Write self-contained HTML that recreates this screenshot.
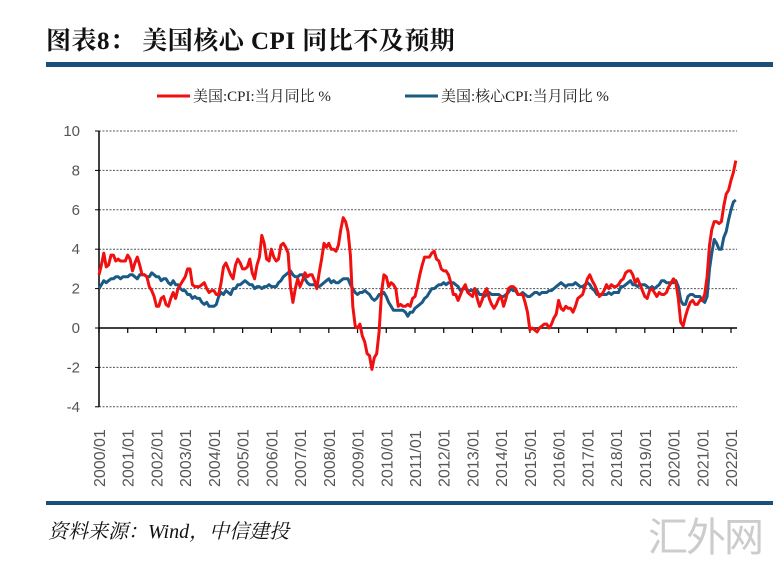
<!DOCTYPE html>
<html><head><meta charset="utf-8"><style>
body{margin:0;width:773px;height:562px;background:#fff;overflow:hidden;position:relative;font-family:"Liberation Sans","Noto Sans CJK SC",sans-serif}
.t{position:absolute;left:46px;top:21px;font:bold 25px "Liberation Serif","Noto Serif CJK SC",serif;color:#111;letter-spacing:0.5px}
.bar{position:absolute;left:46px;width:727px;background:#1a4f7a}
.src{position:absolute;left:48px;top:515px;font:italic 20px "Liberation Serif","Noto Serif CJK SC",serif;color:#111}
.wm{position:absolute;left:648px;top:505px;font:40px "Noto Sans CJK SC",sans-serif;color:#ccc;letter-spacing:-2px}
</style></head><body>
<div class="t">图表8：&nbsp;美国核心 CPI 同比不及预期</div>
<div class="bar" style="top:62px;height:5px"></div>
<div class="bar" style="top:501px;height:4px"></div>
<div class="src">资料来源：Wind，中信建投</div>
<div class="wm">汇外网</div>
<svg id="s" width="773" height="562" style="position:absolute;left:0;top:0"></svg>
<script>
var cpi=[2.7,3.2,3.8,3.1,3.2,3.7,3.7,3.4,3.5,3.4,3.4,3.4,3.7,3.5,2.9,3.3,3.6,3.2,2.7,2.7,2.6,2.1,1.9,1.6,1.1,1.1,1.5,1.6,1.2,1.1,1.5,1.8,1.5,2.0,2.2,2.4,2.6,3.0,3.0,2.2,2.1,2.1,2.1,2.2,2.3,2.0,1.8,1.9,1.9,1.7,1.7,2.3,3.1,3.3,3.0,2.7,2.5,3.2,3.5,3.3,3.0,3.0,3.1,3.5,2.8,2.5,3.2,3.6,4.7,4.3,3.5,3.4,4.0,3.6,3.4,3.5,4.2,4.3,4.1,3.8,2.1,1.3,2.0,2.5,2.1,2.4,2.8,2.6,2.7,2.7,2.4,2.0,2.8,3.5,4.3,4.1,4.3,4.0,4.0,3.9,4.2,5.0,5.6,5.4,4.9,3.7,1.1,0.1,0.0,0.2,-0.4,-0.7,-1.3,-1.4,-2.1,-1.5,-1.3,-0.2,1.8,2.7,2.6,2.1,2.3,2.2,2.0,1.1,1.2,1.1,1.1,1.2,1.1,1.5,1.6,2.1,2.7,3.2,3.6,3.6,3.6,3.8,3.9,3.5,3.4,3.0,2.9,2.9,2.7,2.3,1.7,1.7,1.4,1.7,2.0,2.2,1.8,1.7,1.6,2.0,1.5,1.1,1.4,1.8,2.0,1.5,1.2,1.0,1.2,1.5,1.6,1.1,1.5,2.0,2.1,2.1,2.0,1.7,1.7,1.7,1.3,0.8,-0.1,0.0,-0.1,-0.2,0.0,0.1,0.2,0.2,0.0,0.2,0.5,0.7,1.4,1.0,0.9,1.1,1.0,1.0,0.8,1.1,1.5,1.6,1.7,2.1,2.5,2.7,2.4,2.2,1.9,1.6,1.7,1.9,2.2,2.0,2.2,2.1,2.1,2.2,2.4,2.5,2.8,2.9,2.9,2.7,2.3,2.5,2.2,1.9,1.6,1.5,1.9,2.0,1.8,1.6,1.8,1.7,1.7,1.8,2.1,2.3,2.5,2.3,1.5,0.3,0.1,0.6,1.0,1.3,1.4,1.2,1.2,1.4,1.4,1.7,2.6,4.2,5.0,5.4,5.4,5.3,5.4,6.2,6.8,7.0,7.5,7.9,8.5];
var core=[2.0,2.2,2.4,2.3,2.4,2.5,2.5,2.6,2.6,2.5,2.6,2.6,2.6,2.7,2.7,2.6,2.5,2.7,2.7,2.7,2.6,2.6,2.8,2.7,2.6,2.6,2.4,2.5,2.5,2.3,2.2,2.4,2.2,2.2,2.0,1.9,1.9,1.7,1.7,1.5,1.6,1.5,1.5,1.3,1.2,1.3,1.1,1.1,1.1,1.2,1.6,1.8,1.7,1.9,1.8,1.7,2.0,2.0,2.2,2.2,2.3,2.4,2.3,2.2,2.2,2.0,2.1,2.1,2.0,2.1,2.1,2.2,2.1,2.1,2.1,2.3,2.4,2.6,2.7,2.8,2.9,2.7,2.6,2.6,2.7,2.7,2.5,2.3,2.2,2.2,2.2,2.1,2.1,2.2,2.3,2.4,2.5,2.3,2.4,2.3,2.3,2.4,2.5,2.5,2.5,2.2,2.0,1.8,1.7,1.8,1.8,1.9,1.8,1.7,1.5,1.4,1.5,1.7,1.7,1.8,1.6,1.3,1.1,0.9,0.9,0.9,0.9,0.9,0.8,0.6,0.8,0.8,1.0,1.1,1.2,1.3,1.5,1.6,1.8,2.0,2.0,2.1,2.2,2.2,2.3,2.2,2.3,2.3,2.3,2.2,2.1,1.9,2.0,2.0,1.9,1.9,1.9,2.0,1.9,1.7,1.7,1.6,1.7,1.8,1.7,1.7,1.7,1.7,1.6,1.6,1.7,1.8,2.0,1.9,1.9,1.7,1.7,1.8,1.7,1.6,1.6,1.7,1.8,1.8,1.7,1.8,1.8,1.8,1.9,1.9,2.0,2.1,2.2,2.3,2.2,2.1,2.2,2.2,2.2,2.3,2.2,2.1,2.1,2.2,2.3,2.2,2.0,1.9,1.7,1.7,1.7,1.7,1.7,1.8,1.7,1.8,1.8,1.8,2.1,2.1,2.2,2.3,2.4,2.2,2.2,2.1,2.2,2.2,2.2,2.1,2.0,2.1,2.0,2.1,2.2,2.4,2.4,2.3,2.3,2.3,2.3,2.4,2.1,1.4,1.2,1.2,1.6,1.7,1.7,1.6,1.6,1.6,1.4,1.3,1.6,3.0,3.8,4.5,4.3,4.0,4.0,4.6,4.9,5.5,6.0,6.4,6.5];
function X(i){return 99+i*632/264}function Y(v){return 328-v*19.7}
var h='';
for(var v=-4;v<=10;v+=2){var y=Y(v);
 if(v!=0)h+='<line x1="99" x2="737" y1="'+y+'" y2="'+y+'" stroke="#555" stroke-width="1" stroke-dasharray="2,1.5"/>';
 h+='<line x1="95" x2="99" y1="'+y+'" y2="'+y+'" stroke="#000"/>';
 h+='<text x="80" y="'+(y+5)+'" text-anchor="end" font-size="15" fill="#555" font-family="Liberation Sans">'+v+'</text>';}
h+='<line x1="99" x2="99" y1="'+Y(10)+'" y2="'+Y(-4)+'" stroke="#000" stroke-width="1.5"/>';
h+='<line x1="99" x2="737" y1="328" y2="328" stroke="#000" stroke-width="1.5"/>';
for(var k=0;k<=22;k++){var x=X(k*12);h+='<line x1="'+x+'" x2="'+x+'" y1="328" y2="333" stroke="#000" stroke-width="1.2"/>';
 h+='<text transform="translate('+(x+6)+',487) rotate(-90)" font-size="16" fill="#555" font-family="Liberation Sans">'+(2000+k)+'/01</text>';}
function pl(a,c){var p=a.map(function(v,i){return X(i).toFixed(1)+','+Y(v).toFixed(1)}).join(' ');return '<polyline points="'+p+'" fill="none" stroke="'+c+'" stroke-width="3" stroke-linejoin="round"/>';}
h+=pl(core,'#1a5a85')+pl(cpi,'#f01010');
h+='<line x1="157" x2="190" y1="96" y2="96" stroke="#f01010" stroke-width="3"/><text x="193" y="101" font-size="15" fill="#222" font-family="Liberation Serif,Noto Serif CJK SC,serif">美国:CPI:当月同比 %</text>';
h+='<line x1="405" x2="438" y1="96" y2="96" stroke="#1a5a85" stroke-width="3"/><text x="441" y="101" font-size="15" fill="#222" font-family="Liberation Serif,Noto Serif CJK SC,serif">美国:核心CPI:当月同比 %</text>';
document.getElementById('s').innerHTML=h;
</script>
</body></html>
